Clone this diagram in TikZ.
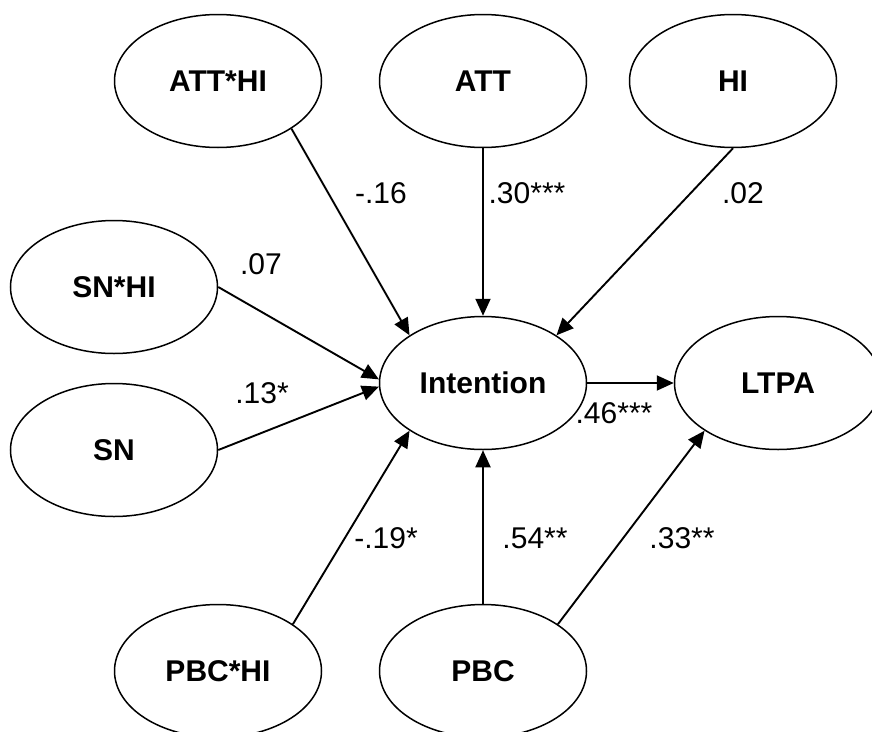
\documentclass[tikz,border=0pt]{standalone}
\usepackage{fontspec}
\setmainfont{Liberation Sans}
\usetikzlibrary{arrows.meta}
\usetikzlibrary{shapes.geometric,positioning}

\begin{document}
\begin{tikzpicture}[x=1pt,y=-1pt,>={Triangle[length=17pt,width=15pt]},
  line width=1.5pt,
  var/.style={ellipse,draw,minimum width=207pt,minimum height=133pt,inner sep=0pt,
    font=\fontsize{30}{36}\selectfont\bfseries},
  coef/.style={inner sep=0pt,font=\fontsize{30}{36}\selectfont}]
\useasboundingbox (0,0) rectangle (872,731);
\node[var] (atthi) at (218,81) {ATT*HI};
\node[var] (att) at (483,81) {ATT};
\node[var] (hi) at (733,81) {HI};
\node[var] (snhi) at (114,287) {SN*HI};
\node[var] (sn) at (114,450) {SN};
\node[var] (int) at (483,383) {Intention};
\node[var] (ltpa) at (778,383) {LTPA};
\node[var] (pbchi) at (218,671) {PBC*HI};
\node[var] (pbc) at (483,671) {PBC};
\node[coef] (p1) at (381,193) {-.16};
\node[coef] (p2) at (527,193) {.30***};
\node[coef] (p3) at (743,193) {.02};
\node[coef] (p4) at (261,264) {.07};
\node[coef] (p5) at (262,393) {.13*};
\node[coef] (p6) at (614,413) {.46***};
\node[coef] (p7) at (386,538) {-.19*};
\node[coef] (p8) at (535,538) {.54**};
\node[coef] (p9) at (682,538) {.33**};

\path[line width=1.9pt]

(atthi.-33) edge[->] (int.147)
(att) edge[->] (int)
(hi.south) edge[->] (int.33)
(snhi.east) edge[->] (int.178)
(sn.east) edge[->] (int.182)
(int) edge[->] (ltpa)
(pbchi.32) edge[->] (int.213)
(pbc) edge[->] (int)
(pbc.32) edge[->] (ltpa.213);
\end{tikzpicture}
\end{document}
